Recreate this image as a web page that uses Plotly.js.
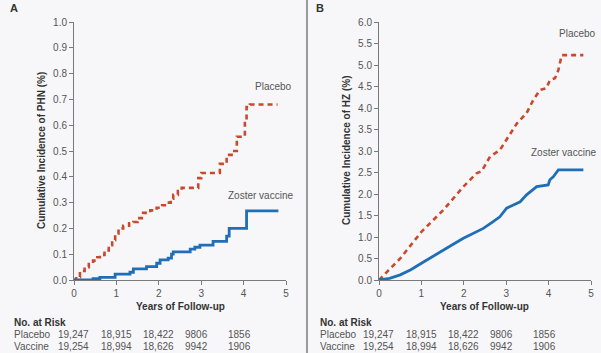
<!DOCTYPE html>
<html><head><meta charset="utf-8">
<script src="https://cdn.plot.ly/plotly-3.0.1.min.js"></script>
<style>html,body{margin:0;padding:0;background:#f7f7f9;}#chart{width:601px;height:353px;}</style>
</head><body><div id="chart"></div>
<script>
// Panel A: post-herpetic neuralgia (PHN)
const phnPlaceboX = [0, 0.05, 0.14, 0.25, 0.35, 0.45, 0.55, 0.61, 0.72, 0.82, 0.90, 0.97, 1.05, 1.16, 1.30, 1.40, 1.50, 1.63, 1.80, 1.95, 2.08, 2.19, 2.28, 2.34, 2.45, 2.54, 2.78, 2.93, 3.00, 3.28, 3.44, 3.60, 3.75, 3.84, 3.95, 4.03, 4.07, 4.15, 4.80];
const phnPlaceboY = [0, 0.012, 0.035, 0.05, 0.062, 0.075, 0.088, 0.097, 0.115, 0.135, 0.155, 0.18, 0.20, 0.21, 0.22, 0.225, 0.24, 0.26, 0.27, 0.28, 0.29, 0.30, 0.315, 0.33, 0.345, 0.357, 0.357, 0.395, 0.415, 0.415, 0.45, 0.485, 0.50, 0.555, 0.555, 0.62, 0.67, 0.68, 0.68];
const phnVaccineX = [0, 0.38, 0.45, 0.61, 0.97, 1.32, 1.40, 1.71, 1.95, 2.03, 2.22, 2.30, 2.34, 2.74, 2.85, 2.97, 3.28, 3.60, 3.66, 4.07, 4.82];
const phnVaccineY = [0, 0, 0.005, 0.01, 0.023, 0.03, 0.043, 0.052, 0.065, 0.078, 0.085, 0.10, 0.109, 0.12, 0.127, 0.135, 0.15, 0.17, 0.20, 0.268, 0.268];
// Panel B: herpes zoster (HZ)
const hzPlaceboX = [0, 0.5, 1.0, 1.52, 1.99, 2.30, 2.42, 2.62, 2.85, 3.05, 3.25, 3.48, 3.64, 3.80, 3.95, 4.03, 4.15, 4.23, 4.27, 4.31, 4.82];
const hzPlaceboY = [0, 0.50, 1.12, 1.63, 2.17, 2.48, 2.53, 2.87, 3.02, 3.33, 3.64, 3.88, 4.19, 4.42, 4.46, 4.65, 4.69, 4.88, 5.04, 5.23, 5.23];
const hzVaccineX = [0, 0.25, 0.5, 0.75, 1.0, 1.25, 1.52, 1.75, 1.99, 2.2, 2.46, 2.65, 2.85, 3.01, 3.33, 3.48, 3.72, 3.99, 4.03, 4.11, 4.23, 4.82];
const hzVaccineY = [0, 0.04, 0.12, 0.24, 0.39, 0.53, 0.70, 0.83, 0.97, 1.07, 1.20, 1.33, 1.47, 1.67, 1.82, 1.98, 2.17, 2.21, 2.33, 2.40, 2.56, 2.56];
// Number at risk
const riskYears = [0, 1, 2, 3, 4];
const riskPlacebo = ["19,247", "18,915", "18,422", "9806", "1856"];
const riskVaccine = ["19,254", "18,994", "18,626", "9942", "1906"];

const FONT = "Liberation Sans Narrow, Liberation Sans, Arial, sans-serif";
const red = "#c9492c", blue = "#1f6fb7", axisCol = "#7a7a7a", txt = "#555";

const traces = [
  {x: phnPlaceboX, y: phnPlaceboY, xaxis: "x", yaxis: "y", mode: "lines", line: {shape: "hv", color: red, width: 2.6, dash: "5px,4px"}},
  {x: phnVaccineX, y: phnVaccineY, xaxis: "x", yaxis: "y", mode: "lines", line: {shape: "hv", color: blue, width: 2.8}},
  {x: hzPlaceboX, y: hzPlaceboY, xaxis: "x2", yaxis: "y2", mode: "lines", line: {color: red, width: 2.6, dash: "5px,4px"}},
  {x: hzVaccineX, y: hzVaccineY, xaxis: "x2", yaxis: "y2", mode: "lines", line: {color: blue, width: 2.8}}
];

const W = 601, H = 353;
const px = v => v / W, py = v => 1 - v / H;
const X0A = 74, X0B = 379, PXU = 42.4;

function xax(dom, anchor) {
  return {domain: dom, anchor: anchor, range: [0, 5], tickvals: [0,1,2,3,4,5], ticks: "outside", ticklen: 4,
    tickcolor: axisCol, showline: true, linecolor: axisCol, linewidth: 1, showgrid: false, zeroline: false,
    tickfont: {family: FONT, size: 10, color: txt}, fixedrange: true};
}
function yax(dom, anchor, max, step) {
  return {domain: dom, anchor: anchor, range: [0, max], dtick: step, tick0: 0, tickformat: ".1f", ticks: "outside", ticklen: 4,
    tickcolor: axisCol, showline: true, linecolor: axisCol, linewidth: 1, showgrid: false, zeroline: false,
    tickfont: {family: FONT, size: 10, color: txt}, fixedrange: true};
}

const ydom = [py(280), py(22)];
const annotations = [
  {text: "<b>A</b>", xref: "paper", yref: "paper", x: px(8), y: py(8), xanchor: "left", yanchor: "middle", showarrow: false, font: {family: FONT, size: 11, color: "#333"}},
  {text: "<b>B</b>", xref: "paper", yref: "paper", x: px(314), y: py(8), xanchor: "left", yanchor: "middle", showarrow: false, font: {family: FONT, size: 11, color: "#333"}},
  {text: "<b>Cumulative Incidence of PHN (%)</b>", xref: "paper", yref: "paper", x: px(41), y: py(151), textangle: -90, xanchor: "center", yanchor: "middle", showarrow: false, font: {family: FONT, size: 10, color: "#333"}},
  {text: "<b>Cumulative Incidence of HZ (%)</b>", xref: "paper", yref: "paper", x: px(346), y: py(151), textangle: -90, xanchor: "center", yanchor: "middle", showarrow: false, font: {family: FONT, size: 10, color: "#333"}},
  {text: "<b>Years of Follow-up</b>", xref: "paper", yref: "paper", x: px(180), y: py(306), xanchor: "center", yanchor: "middle", showarrow: false, font: {family: FONT, size: 10, color: "#333"}},
  {text: "<b>Years of Follow-up</b>", xref: "paper", yref: "paper", x: px(485), y: py(306), xanchor: "center", yanchor: "middle", showarrow: false, font: {family: FONT, size: 10, color: "#333"}},
  {text: "Placebo", xref: "x", yref: "y", x: 4.7, y: 0.72, xanchor: "center", yanchor: "bottom", showarrow: false, font: {family: FONT, size: 10, color: txt}},
  {text: "Zoster vaccine", xref: "x", yref: "y", x: 4.41, y: 0.30, xanchor: "center", yanchor: "bottom", showarrow: false, font: {family: FONT, size: 10, color: txt}},
  {text: "Placebo", xref: "x2", yref: "y2", x: 4.67, y: 5.55, xanchor: "center", yanchor: "bottom", showarrow: false, font: {family: FONT, size: 10, color: txt}},
  {text: "Zoster vaccine", xref: "x2", yref: "y2", x: 4.35, y: 2.78, xanchor: "center", yanchor: "bottom", showarrow: false, font: {family: FONT, size: 10, color: txt}}
];

[[X0A, 12], [X0B, 318]].forEach(([x0, left]) => {
  annotations.push({text: "<b>No. at Risk</b>", xref: "paper", yref: "paper", x: px(left), y: py(322), xanchor: "left", yanchor: "middle", showarrow: false, font: {family: FONT, size: 10, color: "#333"}});
  annotations.push({text: "Placebo", xref: "paper", yref: "paper", x: px(left), y: py(334), xanchor: "left", yanchor: "middle", showarrow: false, font: {family: FONT, size: 10, color: txt}});
  annotations.push({text: "Vaccine", xref: "paper", yref: "paper", x: px(left), y: py(346), xanchor: "left", yanchor: "middle", showarrow: false, font: {family: FONT, size: 10, color: txt}});
  riskYears.forEach((yr, i) => {
    const xl = px(x0 + (yr - 0.42) * PXU);
    annotations.push({text: riskPlacebo[i], xref: "paper", yref: "paper", x: xl, y: py(334), xanchor: "left", yanchor: "middle", showarrow: false, font: {family: FONT, size: 10, color: txt}});
    annotations.push({text: riskVaccine[i], xref: "paper", yref: "paper", x: xl, y: py(346), xanchor: "left", yanchor: "middle", showarrow: false, font: {family: FONT, size: 10, color: txt}});
  });
});

const layout = {
  width: W, height: H, margin: {l: 0, r: 0, t: 0, b: 0},
  paper_bgcolor: "#f7f7f9", plot_bgcolor: "#f7f7f9", showlegend: false,
  xaxis: xax([px(X0A), px(X0A + 5 * PXU)], "y"),
  yaxis: yax(ydom, "x", 1.0, 0.1),
  xaxis2: xax([px(X0B), px(X0B + 5 * PXU)], "y2"),
  yaxis2: yax(ydom, "x2", 6.0, 0.5),
  annotations: annotations,
  shapes: [{type: "line", xref: "paper", yref: "paper", x0: px(307), x1: px(307), y0: 0, y1: 1, line: {color: "#9a9a9a", width: 2}}]
};

Plotly.newPlot("chart", traces, layout, {displayModeBar: false, staticPlot: true});
</script></body></html>
